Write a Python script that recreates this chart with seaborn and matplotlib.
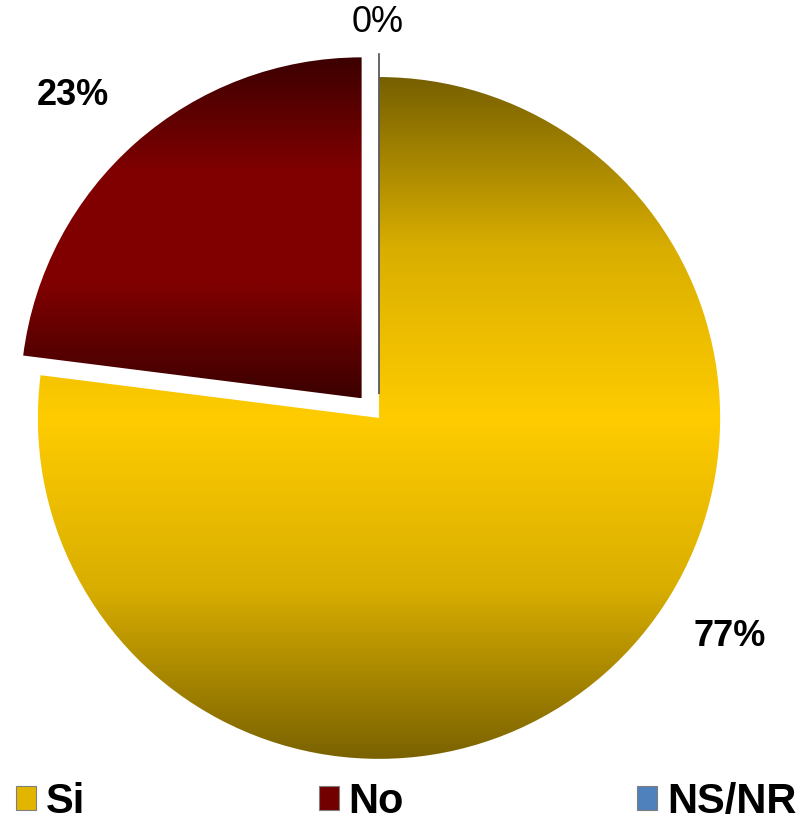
import numpy as np
import matplotlib
matplotlib.use("Agg")
import matplotlib.pyplot as plt
from matplotlib.patches import Patch
import seaborn as sns

# datos
categorias = ["Si", "No", "NS/NR"]
valores = [77, 23, 0]
etiquetas = ["77%", "23%", "0%"]

# colores (gradiente vertical: oscuro - claro - oscuro)
grad_si = ["#7a6200", "#d9ae00", "#ffcc00", "#d9ae00", "#776000"]
grad_no = ["#3c0000", "#800000", "#800000", "#3c0000"]
color_nsnr = "#4f81bd"
leyenda_colores = ["#e2b500", "#720000", color_nsnr]

sns.set_theme(style="white")
plt.rcParams["font.family"] = ["Liberation Sans", "DejaVu Sans"]

fig = plt.figure(figsize=(8.02, 8.25), dpi=100)
ax = fig.add_axes([0, 0, 1, 1])

explode = [0, 0.077, 0.07]
wedges, _ = ax.pie(valores, explode=explode, startangle=90, counterclock=False,
                   radius=1, wedgeprops=dict(linewidth=0))

# rellenar cada porcion con su gradiente
for w, cols in zip(wedges[:2], [grad_si, grad_no]):
    cmap = sns.blend_palette(cols, n_colors=256, as_cmap=True)
    ext = w.get_path().get_extents()
    grad = np.linspace(0, 1, 256).reshape(-1, 1)
    w.set_facecolor("none")
    im = ax.imshow(grad, cmap=cmap, aspect="auto", origin="lower",
                   extent=[ext.x0, ext.x1, ext.y0, ext.y1], zorder=1)
    im.set_clip_path(w)

# porcion de 0% -> solo una linea
wedges[2].set_facecolor("none")
wedges[2].set_edgecolor("#5a5a5a")
wedges[2].set_linewidth(1.3)
wedges[2].set_zorder(3)

ax.set_xlim(-1.111, 1.240)
ax.set_ylim(-1.194, 1.226)
ax.set_aspect("auto")
ax.axis("off")

# etiquetas de datos
pos_etiquetas = [(1.029, -0.642), (-0.897, 0.947), (-0.003, 1.161)]
pesos = ["bold", "bold", "medium"]
for txt, (x, y), pw in zip(etiquetas, pos_etiquetas, pesos):
    ax.text(x, y, txt, ha="center", va="center", fontsize=26,
            fontweight=pw, color="black")

handles = [Patch(facecolor=c, edgecolor="#7f7f7f", linewidth=0.8)
           for c in leyenda_colores]
fig.legend(handles, categorias, loc="lower left", ncol=3,
           bbox_to_anchor=(16 / 802, 0.004), frameon=False,
           prop=dict(size=30, weight="bold"), labelcolor="black",
           handlelength=0.48, handleheight=0.53, handletextpad=0.24,
           columnspacing=5.6, borderpad=0.0, borderaxespad=0)

fig.savefig("out.png", dpi=100)
